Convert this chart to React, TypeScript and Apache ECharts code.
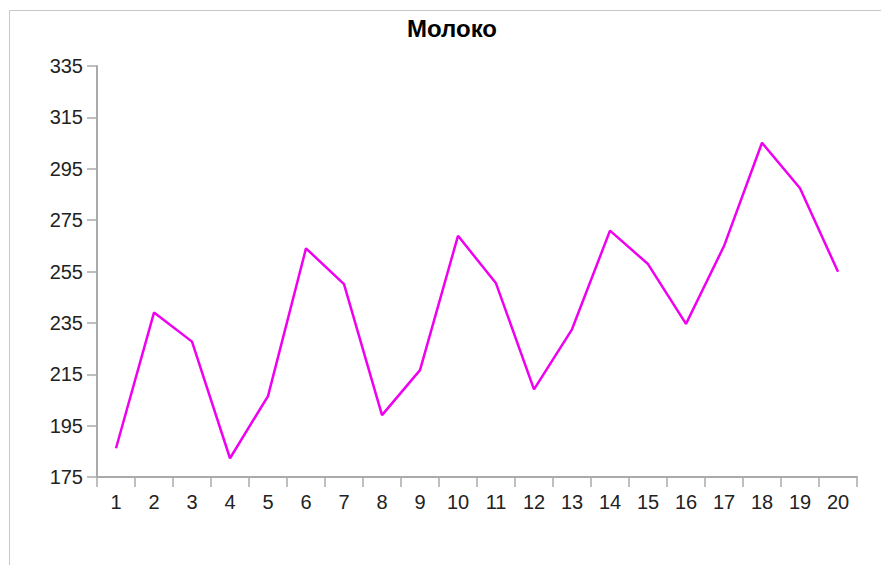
import React, { useEffect, useRef } from "react";
import * as echarts from "echarts";

const categories: string[] = ["1","2","3","4","5","6","7","8","9","10","11","12","13","14","15","16","17","18","19","20"];
const milkValues: number[] = [186.2, 239, 227.7, 182.3, 206.5, 264, 250.1, 199.1, 216.6, 268.9, 250.4, 209.1, 232.5, 270.9, 257.9, 234.6, 264.9, 305.1, 287.4, 254.9];
const chartTitle = "Молоко";
const yMin = 175;
const yMax = 335;
const yStep = 20;

export default function App() {
  const ref = useRef<HTMLDivElement>(null);
  useEffect(() => {
    if (!ref.current) return;
    const chart = echarts.init(ref.current, undefined, { renderer: "svg" });
    chart.setOption({
      animation: false,
      backgroundColor: "#ffffff",
      title: {
        text: chartTitle,
        left: 447,
        top: 11,
        textAlign: "center",
        textStyle: { fontFamily: "Liberation Sans, Arial, sans-serif", fontSize: 24, fontWeight: "bold", color: "#000" },
      },
      graphic: [
        {
          type: "rect",
          shape: { x: 9.5, y: 10.5, width: 1000, height: 1000 },
          style: { fill: "none", stroke: "#c8c8c8", lineWidth: 1 },
          silent: true,
        },
      ],
      grid: { left: 97, right: 24, top: 66, bottom: 88, containLabel: false },
      xAxis: {
        type: "category",
        data: categories,
        boundaryGap: true,
        axisLine: { lineStyle: { color: "#aaaaaa", width: 2 } },
        axisTick: { show: true, length: 10, lineStyle: { color: "#aaaaaa", width: 1.5 }, alignWithLabel: false },
        axisLabel: { margin: 15, fontFamily: "Liberation Sans, Arial, sans-serif", fontSize: 20, color: "#222", interval: 0 },
        splitLine: { show: false },
      },
      yAxis: {
        type: "value",
        min: yMin,
        max: yMax,
        interval: yStep,
        axisLine: { show: true, lineStyle: { color: "#aaaaaa", width: 2 } },
        axisTick: { show: true, length: 10, lineStyle: { color: "#aaaaaa", width: 1.5 } },
        axisLabel: { margin: 14, fontFamily: "Liberation Sans, Arial, sans-serif", fontSize: 20, color: "#222" },
        splitLine: { show: false },
      },
      series: [
        {
          type: "line",
          data: milkValues,
          showSymbol: false,
          symbol: "none",
          lineStyle: { color: "#f000f0", width: 2.5 },
          itemStyle: { color: "#f000f0" },
        },
      ],
    });
    return () => chart.dispose();
  }, []);
  return (
    <div
      ref={ref}
      style={{ position: "absolute", left: 0, top: 0, width: 881, height: 565 }}
    />
  );
}
